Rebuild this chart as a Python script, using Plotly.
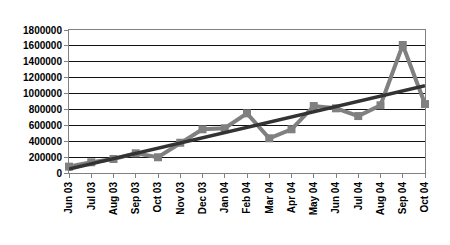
import numpy as np
import plotly.graph_objects as go

months = ["Jun 03", "Jul 03", "Aug 03", "Sep 03", "Oct 03", "Nov 03", "Dec 03", "Jan 04",
          "Feb 04", "Mar 04", "Apr 04", "May 04", "Jun 04", "Jul 04", "Aug 04", "Sep 04", "Oct 04"]
values = [80000, 135000, 176000, 248000, 198000, 381000, 550000, 563000,
          751000, 437000, 550000, 843000, 814000, 717000, 852000, 1611000, 868000]
y_ticks = [0, 200000, 400000, 600000, 800000, 1000000, 1200000, 1400000, 1600000, 1800000]

idx = np.arange(len(months))
slope, intercept = np.polyfit(idx, values, 1)
trend = slope * idx + intercept

fig = go.Figure()
fig.add_trace(go.Scatter(
    x=months, y=values, mode="lines+markers",
    line=dict(color="#808080", width=4),
    marker=dict(symbol="square", size=8, color="#808080"),
    cliponaxis=False, showlegend=False))
fig.add_trace(go.Scatter(
    x=months, y=trend, mode="lines",
    line=dict(color="#333333", width=3.5),
    cliponaxis=False, showlegend=False))

fig.update_layout(
    width=450, height=245,
    margin=dict(l=69, r=25, t=30, b=72),
    paper_bgcolor="white", plot_bgcolor="white",
    font=dict(family="Liberation Sans, Arial, sans-serif", size=10, color="black"),
)
fig.update_xaxes(
    type="category", range=[0, len(months) - 1],
    tickangle=-90, tickfont=dict(family="Liberation Sans, Arial", size=10, weight="bold"),
    showgrid=False, showline=True, linecolor="#808080", linewidth=1, mirror=True,
    ticks="outside", ticklen=4, tickcolor="#808080", zeroline=False,
)
fig.update_yaxes(
    range=[0, 1800000], tickvals=y_ticks, ticktext=[str(v) for v in y_ticks],
    tickfont=dict(family="Liberation Sans, Arial", size=10, weight="bold"),
    showgrid=True, gridcolor="#111111", gridwidth=1,
    showline=True, linecolor="#808080", linewidth=1, mirror=True,
    ticks="outside", ticklen=4, tickcolor="#808080", zeroline=False,
)

fig.write_html("out.html")
